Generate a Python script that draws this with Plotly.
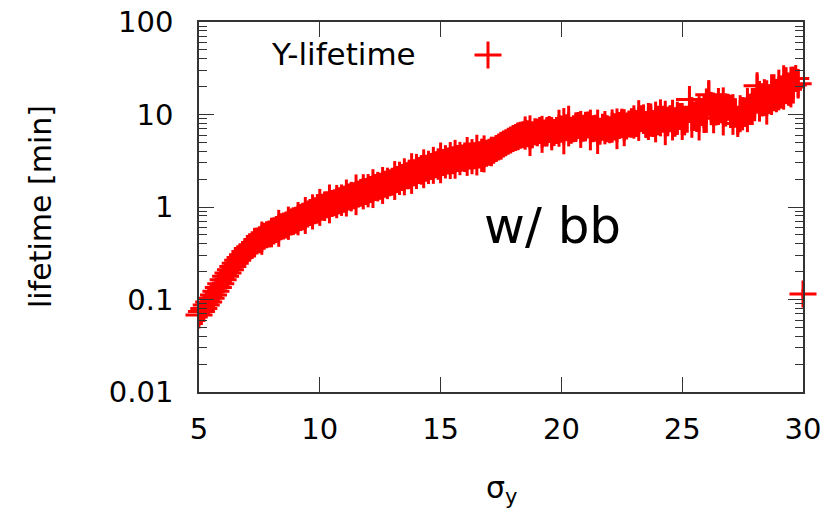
import plotly.graph_objects as go

# ---- data ----
sigma_y = [
    5.0, 5.1, 5.2, 5.3, 5.4, 5.5, 5.6, 5.7, 5.8, 5.9,
    6.0, 6.1, 6.2, 6.3, 6.4, 6.5, 6.6, 6.7, 6.8, 6.9,
    7.0, 7.1, 7.2, 7.3, 7.4, 7.5, 7.6, 7.7, 7.8, 7.9,
    8.0, 8.1, 8.2, 8.3, 8.4, 8.5, 8.6, 8.7, 8.8, 8.9,
    9.0, 9.1, 9.2, 9.3, 9.4, 9.5, 9.6, 9.7, 9.8, 9.9,
    10.0, 10.1, 10.2, 10.3, 10.4, 10.5, 10.6, 10.7, 10.8, 10.9,
    11.0, 11.1, 11.2, 11.3, 11.4, 11.5, 11.6, 11.7, 11.8, 11.9,
    12.0, 12.1, 12.2, 12.3, 12.4, 12.5, 12.6, 12.7, 12.8, 12.9,
    13.0, 13.1, 13.2, 13.3, 13.4, 13.5, 13.6, 13.7, 13.8, 13.9,
    14.0, 14.1, 14.2, 14.3, 14.4, 14.5, 14.6, 14.7, 14.8, 14.9,
    15.0, 15.1, 15.2, 15.3, 15.4, 15.5, 15.6, 15.7, 15.8, 15.9,
    16.0, 16.1, 16.2, 16.3, 16.4, 16.5, 16.6, 16.7, 16.8, 16.9,
    17.0, 17.1, 17.2, 17.3, 17.4, 17.5, 17.6, 17.7, 17.8, 17.9,
    18.0, 18.1, 18.2, 18.3, 18.4, 18.5, 18.6, 18.7, 18.8, 18.9,
    19.0, 19.1, 19.2, 19.3, 19.4, 19.5, 19.6, 19.7, 19.8, 19.9,
    20.0, 20.1, 20.2, 20.3, 20.4, 20.5, 20.6, 20.7, 20.8, 20.9,
    21.0, 21.1, 21.2, 21.3, 21.4, 21.5, 21.6, 21.7, 21.8, 21.9,
    22.0, 22.1, 22.2, 22.3, 22.4, 22.5, 22.6, 22.7, 22.8, 22.9,
    23.0, 23.1, 23.2, 23.3, 23.4, 23.5, 23.6, 23.7, 23.8, 23.9,
    24.0, 24.1, 24.2, 24.3, 24.4, 24.5, 24.6, 24.7, 24.8, 24.9,
    25.0, 25.1, 25.2, 25.3, 25.4, 25.5, 25.6, 25.7, 25.8, 25.9,
    26.0, 26.1, 26.2, 26.3, 26.4, 26.5, 26.6, 26.7, 26.8, 26.9,
    27.0, 27.1, 27.2, 27.3, 27.4, 27.5, 27.6, 27.7, 27.8, 27.9,
    28.0, 28.1, 28.2, 28.3, 28.4, 28.5, 28.6, 28.7, 28.8, 28.9,
    29.0, 29.1, 29.2, 29.3, 29.4, 29.5, 29.6, 29.7, 29.8, 30.0,
]
lifetime = [
    0.068, 0.074, 0.080, 0.087, 0.094, 0.103, 0.112, 0.123, 0.135, 0.148,
    0.163, 0.178, 0.193, 0.210, 0.228, 0.246, 0.265, 0.285, 0.305, 0.330,
    0.355, 0.372, 0.390, 0.412, 0.430, 0.442, 0.460, 0.482, 0.500, 0.512,
    0.530, 0.552, 0.570, 0.588, 0.610, 0.622, 0.640, 0.668, 0.690, 0.702,
    0.720, 0.748, 0.770, 0.788, 0.810, 0.842, 0.870, 0.885, 0.910, 0.955,
    0.990, 0.995, 1.020, 1.055, 1.080, 1.090, 1.110, 1.145, 1.170, 1.185,
    1.210, 1.250, 1.280, 1.295, 1.320, 1.355, 1.380, 1.425, 1.460, 1.470,
    1.500, 1.545, 1.580, 1.625, 1.660, 1.675, 1.710, 1.760, 1.800, 1.830,
    1.880, 1.935, 1.980, 2.040, 2.080, 2.120, 2.180, 2.250, 2.300, 2.350,
    2.420, 2.480, 2.520, 2.590, 2.630, 2.680, 2.740, 2.820, 2.860, 2.910,
    3.000, 3.020, 3.080, 3.150, 3.180, 3.200, 3.280, 3.350, 3.340, 3.380,
    3.450, 3.520, 3.550, 3.500, 3.580, 3.640, 3.660, 3.620, 3.750, 3.820,
    3.900, 3.980, 4.100, 4.280, 4.450, 4.600, 4.800, 4.950, 5.150, 5.300,
    5.500, 5.650, 5.800, 5.950, 6.050, 6.300, 6.200, 5.900, 6.050, 6.500,
    6.400, 6.700, 6.100, 6.300, 6.500, 6.900, 6.200, 6.400, 6.700, 7.100,
    6.950, 6.600, 7.200, 7.500, 6.750, 7.000, 7.300, 7.600, 6.900, 7.100,
    7.400, 7.700, 6.800, 7.000, 7.100, 6.500, 6.600, 7.300, 7.200, 7.000,
    6.850, 7.500, 7.350, 7.000, 7.600, 8.000, 7.200, 7.500, 7.900, 8.100,
    8.300, 8.000, 8.600, 9.000, 8.900, 7.800, 8.400, 8.700, 8.000, 8.300,
    8.600, 9.200, 8.900, 8.100, 8.400, 9.000, 8.700, 8.300, 9.100, 9.500,
    8.400, 8.600, 8.900, 14.50, 9.300, 9.600, 9.800, 9.100, 10.50, 10.00,
    11.00, 16.30, 11.60, 10.40, 11.00, 12.20, 11.60, 10.80, 11.20, 12.00,
    10.80, 10.00, 10.40, 8.000, 10.20, 10.20, 10.60, 11.20, 11.60, 12.20,
    12.80, 20.50, 13.90, 14.40, 15.20, 13.50, 14.60, 16.40, 17.20, 16.00,
    18.40, 17.50, 19.60, 20.50, 18.80, 19.80, 20.80, 24.50, 21.50, 0.115,
]
# error bar half-size in decades (log10 units)
lifetime_err_dex = [
    0.05, 0.06, 0.08, 0.05, 0.07, 0.06, 0.09, 0.05, 0.08, 0.06,
    0.07, 0.09, 0.06, 0.10, 0.07, 0.08, 0.11, 0.07, 0.09, 0.12,
    0.10, 0.14, 0.08, 0.16, 0.10, 0.12, 0.18, 0.10, 0.14, 0.09,
    0.16, 0.10, 0.12, 0.20, 0.10, 0.14, 0.11, 0.18, 0.10, 0.15,
    0.12, 0.18, 0.10, 0.15, 0.20, 0.11, 0.14, 0.19, 0.10, 0.16,
    0.20, 0.12, 0.16, 0.10, 0.21, 0.14, 0.12, 0.18, 0.10, 0.17,
    0.14, 0.20, 0.11, 0.16, 0.12, 0.22, 0.10, 0.15, 0.19, 0.12,
    0.18, 0.12, 0.21, 0.10, 0.16, 0.14, 0.20, 0.11, 0.17, 0.13,
    0.15, 0.21, 0.12, 0.18, 0.10, 0.20, 0.14, 0.16, 0.22, 0.11,
    0.19, 0.12, 0.16, 0.21, 0.13, 0.18, 0.10, 0.20, 0.14, 0.17,
    0.22, 0.13, 0.18, 0.12, 0.20, 0.15, 0.21, 0.11, 0.18, 0.14,
    0.16, 0.21, 0.12, 0.19, 0.14, 0.22, 0.12, 0.18, 0.20, 0.13,
    0.12, 0.16, 0.10, 0.14, 0.12, 0.15, 0.10, 0.12, 0.10, 0.14,
    0.12, 0.10, 0.15, 0.10, 0.12, 0.18, 0.10, 0.22, 0.12, 0.10,
    0.15, 0.12, 0.20, 0.10, 0.16, 0.12, 0.18, 0.10, 0.14, 0.20,
    0.12, 0.25, 0.10, 0.22, 0.14, 0.12, 0.16, 0.12, 0.20, 0.10,
    0.16, 0.12, 0.22, 0.14, 0.12, 0.24, 0.12, 0.14, 0.18, 0.12,
    0.14, 0.18, 0.12, 0.22, 0.12, 0.16, 0.20, 0.12, 0.14, 0.16,
    0.18, 0.14, 0.22, 0.12, 0.16, 0.14, 0.20, 0.18, 0.14, 0.22,
    0.16, 0.20, 0.14, 0.24, 0.16, 0.14, 0.22, 0.16, 0.18, 0.14,
    0.20, 0.16, 0.14, 0.08, 0.22, 0.16, 0.18, 0.24, 0.14, 0.20,
    0.24, 0.16, 0.18, 0.22, 0.16, 0.20, 0.16, 0.26, 0.18, 0.14,
    0.18, 0.22, 0.16, 0.12, 0.20, 0.18, 0.16, 0.24, 0.16, 0.20,
    0.18, 0.12, 0.22, 0.18, 0.20, 0.24, 0.16, 0.22, 0.20, 0.18,
    0.22, 0.18, 0.24, 0.20, 0.18, 0.22, 0.20, 0.10, 0.16, 0.05,
]

series_name = "Y-lifetime"
x_ticks = [5, 10, 15, 20, 25, 30]
y_ticks = [0.01, 0.1, 1, 10, 100]
y_tick_labels = ["0.01", "0.1", "1", "10", "100"]

RED = "#ff0000"
AX = "#333333"
FONT = "DejaVu Sans"

err_plus = [v * (10 ** d - 1) for v, d in zip(lifetime, lifetime_err_dex)]
err_minus = [v * (1 - 10 ** (-d)) for v, d in zip(lifetime, lifetime_err_dex)]

fig = go.Figure()
fig.add_trace(go.Scatter(
    x=sigma_y, y=lifetime, mode="markers", name=series_name,
    marker=dict(symbol="cross-thin", size=19.3, color=RED,
                line=dict(color=RED, width=3)),
    error_y=dict(type="data", symmetric=False, array=err_plus,
                 arrayminus=err_minus, color=RED, thickness=3, width=0),
    cliponaxis=False, showlegend=False,
))

minor_vals = [m * 10 ** e for e in range(-2, 2) for m in range(2, 10)]

fig.update_layout(
    width=833, height=510,
    margin=dict(l=199, r=30, t=22, b=118, autoexpand=False),
    paper_bgcolor="white", plot_bgcolor="white",
    font=dict(family=FONT, size=29, color="black"),
    showlegend=False,
    xaxis=dict(
        range=[5, 30], tickvals=x_ticks, ticks="inside", ticklen=15,
        tickwidth=1.2, tickcolor=AX, showline=True, linecolor=AX,
        linewidth=1.5, mirror="ticks", showgrid=False, zeroline=False,
        tickfont=dict(family=FONT, size=29, color="black"),
        ticklabelstandoff=10, automargin=False,
    ),
    yaxis=dict(
        type="log", range=[-2, 2], tickvals=y_ticks, ticktext=y_tick_labels,
        ticks="inside", ticklen=15, tickwidth=1.2, tickcolor=AX,
        showline=True, linecolor=AX, linewidth=1.5, mirror="ticks",
        showgrid=False, zeroline=False,
        tickfont=dict(family=FONT, size=29, color="black"),
        ticklabelstandoff=18, automargin=False,
        minor=dict(tickmode="array", tickvals=minor_vals, ticks="inside",
                   ticklen=8, tickwidth=1.2, tickcolor=AX, showgrid=False),
    ),
)

PW, PH = 604.0, 370.0  # plot area size in px (for paper-coordinate placement)

annotations = [
    dict(text="lifetime [min]", xref="paper", yref="paper",
         x=(40 - 199) / PW, y=0.5, xanchor="center", yanchor="middle",
         textangle=-90, showarrow=False,
         font=dict(family=FONT, size=30, color="black")),
    dict(text="σ<sub>y</sub>", xref="paper", yref="paper",
         x=(501 - 199) / PW, y=(392 - 489) / PH, xanchor="center",
         yanchor="middle", showarrow=False, borderpad=0,
         font=dict(family=FONT, size=30, color="black")),
    dict(text="w/ bb", xref="paper", yref="paper",
         x=(552 - 199) / PW, y=(392 - 226) / PH, xanchor="center",
         yanchor="middle", showarrow=False,
         font=dict(family=FONT, size=50, color="black")),
    dict(text=series_name, xref="paper", yref="paper",
         x=(418 - 199) / PW, y=(392 - 54) / PH, xanchor="right",
         yanchor="middle", showarrow=False,
         font=dict(family=FONT, size=31, color="black")),
]
fig.update_layout(annotations=annotations)

# legend sample "+" (key symbol), drawn in paper coordinates
cx, cy, half = 488, 55, 13.5
fig.add_shape(type="line", xref="paper", yref="paper",
              x0=(cx - half - 199) / PW, x1=(cx + half - 199) / PW,
              y0=(392 - cy) / PH, y1=(392 - cy) / PH,
              line=dict(color=RED, width=3))
fig.add_shape(type="line", xref="paper", yref="paper",
              x0=(cx - 199) / PW, x1=(cx - 199) / PW,
              y0=(392 - cy - half) / PH, y1=(392 - cy + half) / PH,
              line=dict(color=RED, width=3))

fig.write_html("out.html")
